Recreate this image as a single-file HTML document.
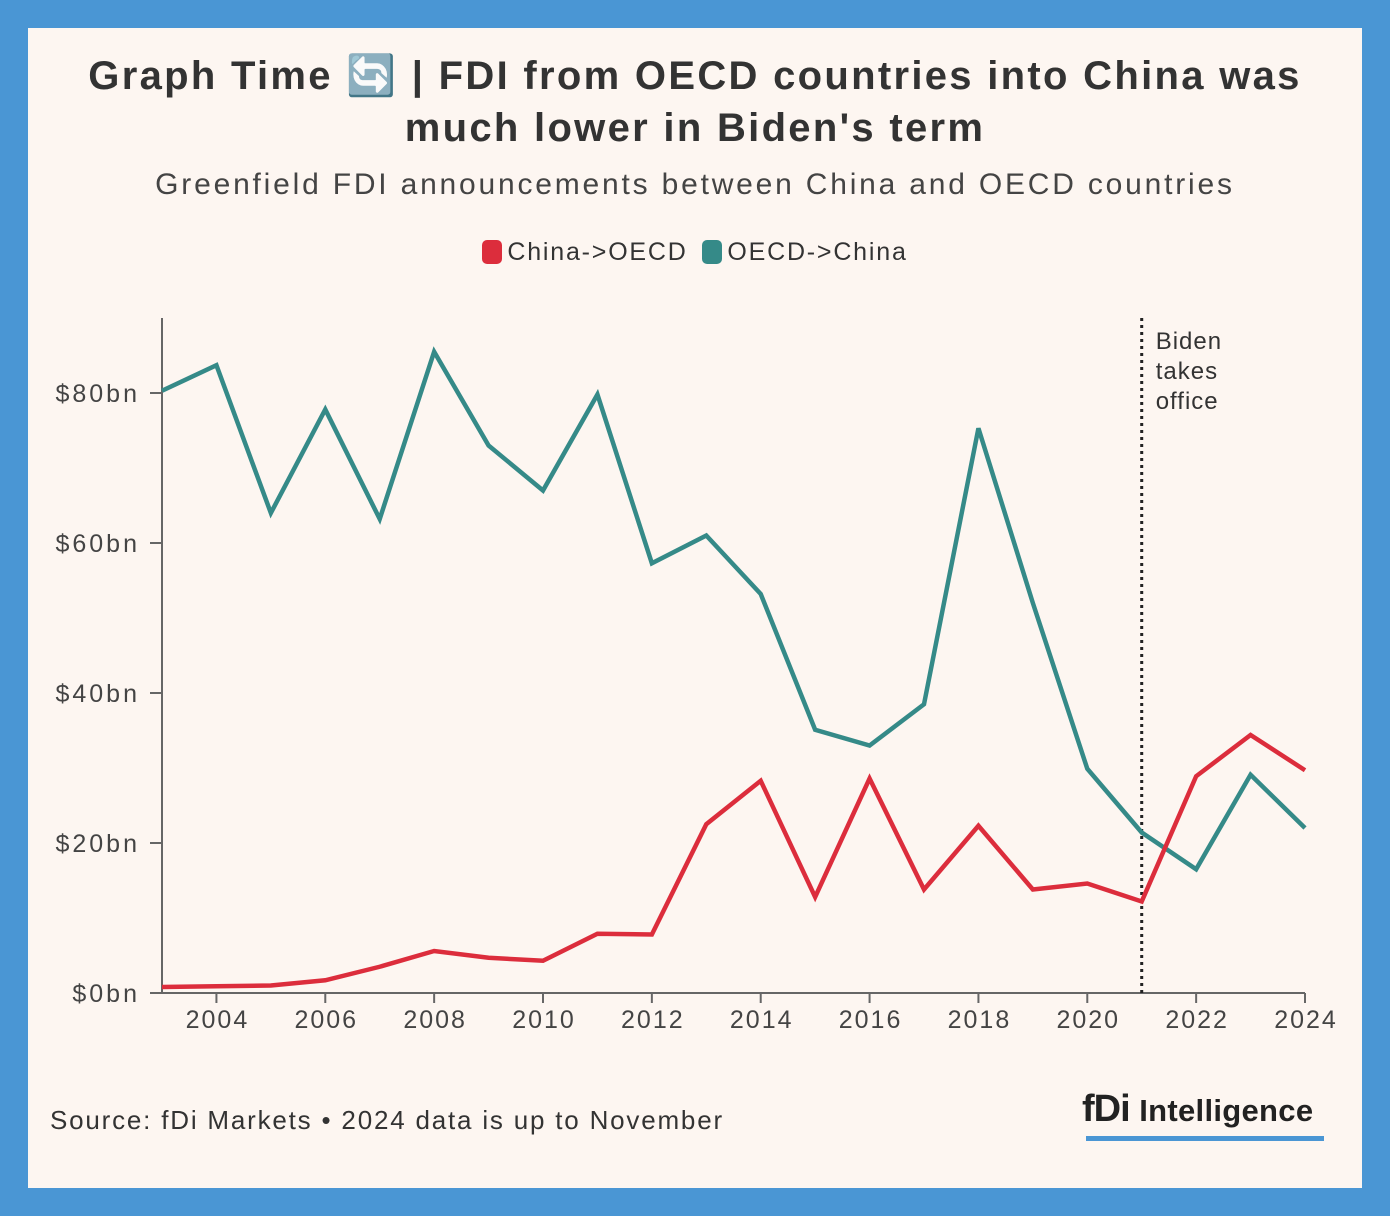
<!DOCTYPE html>
<html><head><meta charset="utf-8"><style>
body{margin:0;width:1390px;height:1216px;background:#4a96d4;font-family:"Liberation Sans","DejaVu Sans",sans-serif;}
#card{position:absolute;left:28px;top:28px;width:1334px;height:1160px;background:#fdf6f1;}
.t{position:absolute;left:0;width:1390px;text-align:center;color:#333;}
</style></head><body>
<div id="card"></div>
<div class="t" style="top:50px;font-size:40px;font-weight:bold;line-height:52px;letter-spacing:2.3px;">Graph Time 🔄 | FDI from OECD countries into China was<br>much lower in Biden's term</div>
<div class="t" style="top:168px;font-size:30px;color:#444;letter-spacing:2.8px;">Greenfield FDI announcements between China and OECD countries</div>
<div style="position:absolute;top:238px;left:0;width:1390px;text-align:center;font-size:25px;color:#333;letter-spacing:1.8px;">
<span><span style="display:inline-block;width:20px;height:24px;border-radius:5px;background:#dc2d3c;vertical-align:-4px;margin-right:5px"></span>China-&gt;OECD</span>
<span style="margin-left:6px"><span style="display:inline-block;width:20px;height:24px;border-radius:5px;background:#358a88;vertical-align:-4px;margin-right:5px"></span>OECD-&gt;China</span>
</div>
<svg id="chart" width="1390" height="1216" style="position:absolute;left:0;top:0"></svg>
<div style="position:absolute;left:50px;top:1105px;font-size:26px;color:#333;letter-spacing:1.8px;">Source: fDi Markets • 2024 data is up to November</div>
<div style="position:absolute;left:1082px;top:1088px;font-size:38px;font-weight:bold;color:#222;letter-spacing:-1px;white-space:nowrap;">fDi <span style="font-size:31px;letter-spacing:0.3px">Intelligence</span></div>
<div style="position:absolute;left:1086px;top:1136px;width:238px;height:5px;background:#4a96d4"></div>
<script>
const years=[2003,2004,2005,2006,2007,2008,2009,2010,2011,2012,2013,2014,2015,2016,2017,2018,2019,2020,2021,2022,2023,2024];
const oecdToChina=[80.3,83.7,64,77.8,63.2,85.5,73,67,79.8,57.3,61,53.2,35.1,33,38.5,75.3,52,29.9,21.4,16.5,29.1,22];
const chinaToOecd=[0.8,0.9,1.0,1.7,3.5,5.6,4.7,4.3,7.9,7.8,22.5,28.3,12.8,28.6,13.8,22.3,13.8,14.6,12.2,28.9,34.4,29.7];
const yTicks=[0,20,40,60,80];
const xTicks=[2004,2006,2008,2010,2012,2014,2016,2018,2020,2022,2024];
const svg=document.getElementById('chart');
const NS='http://www.w3.org/2000/svg';
const x=v=>162+(v-2003)*(1305-162)/21;
const y=v=>993-v*7.5;
function mk(t,a){const e=document.createElementNS(NS,t);for(const k in a)e.setAttribute(k,a[k]);svg.appendChild(e);return e;}
let ax=mk('line',{x1:162,y1:318,x2:162,y2:993,stroke:'#666','stroke-width':2});


let bx=mk('line',{x1:150,y1:993,x2:1305,y2:993,stroke:'#666','stroke-width':2});


yTicks.forEach(v=>{
 let tk=mk('line',{x1:150,x2:162,y1:y(v),y2:y(v),stroke:'#666','stroke-width':2});
 
 
 let t=mk('text',{x:140,y:y(v)+9,'text-anchor':'end','font-size':25,fill:'#444','letter-spacing':3});t.textContent='$'+v+'bn';
 
 
});
xTicks.forEach(v=>{
 let tk=mk('line',{x1:x(v),x2:x(v),y1:993,y2:1003,stroke:'#666','stroke-width':2});
 
 
 let t=mk('text',{x:x(v)+1,y:1028,'text-anchor':'middle','font-size':25,fill:'#444','letter-spacing':2});t.textContent=v;
 
 
});
let bl=mk('line',{x1:x(2021),x2:x(2021),y1:318,y2:993,stroke:'#222','stroke-width':3,'stroke-dasharray':'3,4'});


['Biden','takes','office'].forEach((s,i)=>{let t=mk('text',{x:x(2021)+14,y:349+i*30,'font-size':24,fill:'#333','letter-spacing':1});t.textContent=s;
 
 });
function line(d,c,n){let p=mk('polyline',{points:d.map((v,i)=>x(years[i])+','+y(v)).join(' '),fill:'none',stroke:c,'stroke-width':4.5,'stroke-linejoin':'miter'});
 
 }
line(oecdToChina,'#358a88','line-oecd-to-china');
line(chinaToOecd,'#dc2d3c','line-china-to-oecd');
</script>
</body></html>
